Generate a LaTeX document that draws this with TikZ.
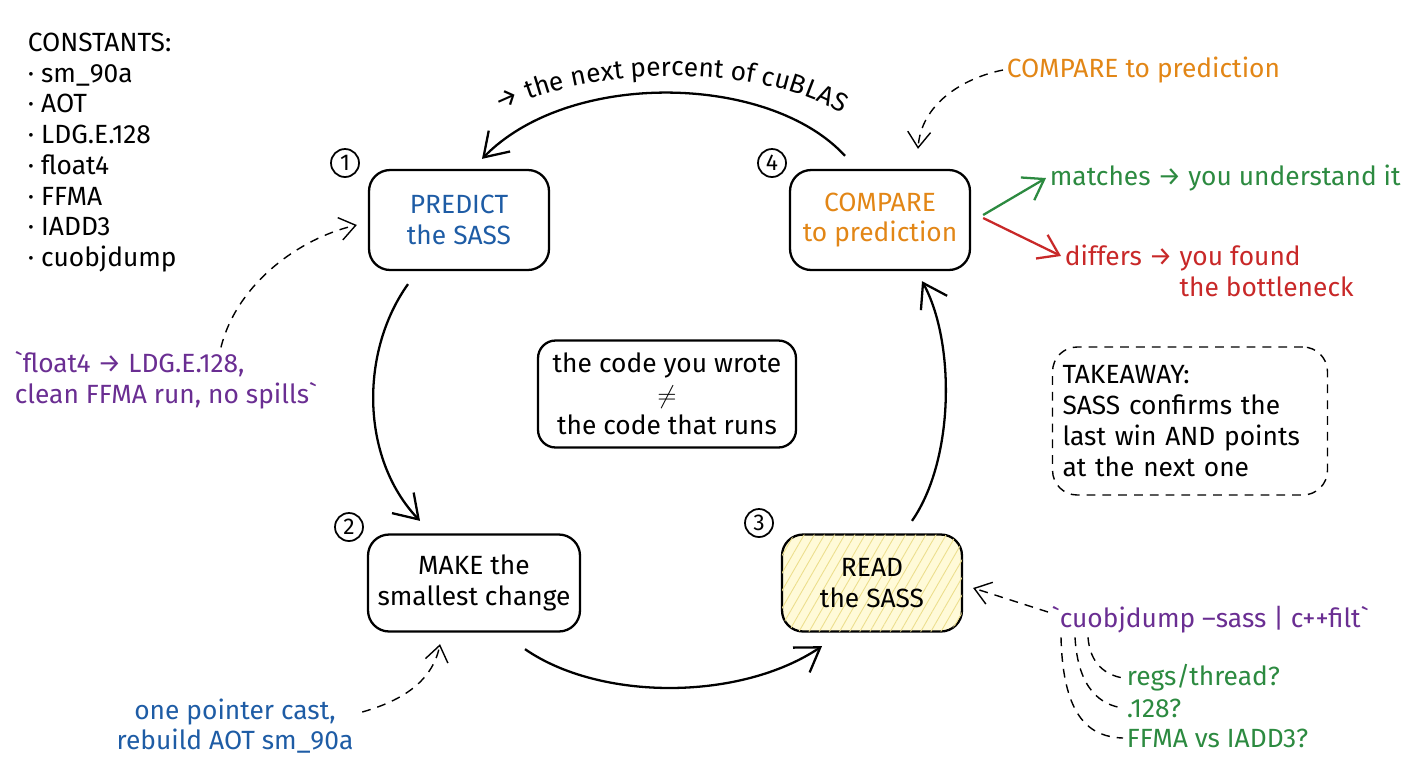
\documentclass[tikz,border=0pt]{standalone}
\usepackage{fontspec}
\setmainfont{Fira Sans}
\definecolor{PredictBlue}{RGB}{30,92,165}
\definecolor{CompareOrange}{RGB}{226,134,22}
\definecolor{MatchGreen}{RGB}{44,138,64}
\definecolor{DiffRed}{RGB}{200,40,40}
\definecolor{CmdPurple}{RGB}{106,46,146}
\definecolor{ReadFill}{RGB}{255,250,216}
\definecolor{ReadHatch}{RGB}{236,222,140}
\usepackage{tikz}
\usetikzlibrary{arrows.meta}
\usetikzlibrary{positioning}
\usetikzlibrary{patterns.meta}
\usetikzlibrary{decorations.text}
\tikzstyle{stepbox} = [draw, line width=1.3pt, rounded corners=12pt, align=center, minimum width=3.6cm, minimum height=2cm]
\tikzstyle{numcirc} = [draw, circle, line width=1pt, minimum size=0.56cm, inner sep=0pt, font=\fontsize{13}{15}\selectfont]
\tikzstyle{flow} = [line width=1.3pt, -{Straight Barb[length=13pt,width=17pt]}]
\tikzstyle{hint} = [line width=0.8pt, dash pattern=on 5pt off 4pt, -{Straight Barb[length=9pt,width=13pt]}]
\tikzstyle{note} = [align=left, inner sep=2pt]

\begin{document}
\begin{tikzpicture}[x=0.02cm, y=-0.02cm, font=\fontsize{15}{17.5}\selectfont]
    \useasboundingbox (0,0) rectangle (1408,768);

    \node[note, anchor=north west] (consts) at (24,29) {CONSTANTS:\\ · sm\_90a\\ · AOT\\ · LDG.E.128\\ · float4\\ · FFMA\\ · IADD3\\ · cuobjdump};

    \node[stepbox, text=PredictBlue] (b1) at (459,220) {PREDICT\\the SASS};
    \node[stepbox, text=CompareOrange] (b4) at (880,220) {COMPARE\\to prediction};
    \node[stepbox, minimum width=4.24cm, minimum height=1.94cm] (b2) at (474,583) {MAKE the\\smallest change};
    \node[stepbox, minimum height=1.94cm, fill=ReadFill, postaction={pattern={Lines[angle=60,distance=5pt,line width=0.5pt]}, pattern color=ReadHatch}] (b3) at (872,583) {READ\\the SASS};

    \node[numcirc] (n1) at (345,163) {1};
    \node[numcirc] (n4) at (772,163) {4};
    \node[numcirc] (n2) at (349,527) {2};
    \node[numcirc] (n3) at (759,523) {3};

    \node[stepbox, minimum width=5.16cm, minimum height=2.14cm, rounded corners=10pt] (gap) at (667,394) {the code you wrote\\$\neq$\\the code that runs};
    \node[draw, dash pattern=on 5pt off 4pt, line width=0.8pt, rounded corners=14pt, minimum width=5.5cm, minimum height=2.96cm, align=left, text width=5.1cm, inner sep=0.2cm] (take) at (1190,421) {TAKEAWAY:\\SASS confirms the\\last win AND points\\at the next one};

    \draw[flow] ([xshift=-0.7cm, yshift=0.26cm]b4.north) .. controls +(-75,-82) and +(88,-90) .. ([xshift=0.46cm, yshift=0.2cm]b1.north);
    \draw[flow] ([xshift=-1.02cm, yshift=-0.26cm]b1.south) .. controls +(-48,67) and +(-60,-63) .. ([xshift=-1.08cm, yshift=0.25cm]b2.north);
    \draw[flow] ([xshift=1.02cm, yshift=-0.33cm]b2.south) .. controls +(75,52) and +(-82,55) .. ([xshift=-1cm, yshift=-0.27cm]b3.south);
    \draw[flow] ([xshift=0.8cm, yshift=0.25cm]b3.north) .. controls +(43,-62) and +(33,60) .. ([xshift=0.84cm, yshift=-0.2cm]b4.south);
    \path[postaction={decorate}, decoration={text along path, text align=center, text={|\fontsize{15}{17}\selectfont|→ the next percent of cuBLAS}}] (482,122) .. controls (580,60) and (780,60) .. (858,126);

    \node[note, text=CompareOrange, anchor=west] (cmp) at (1003,70) {COMPARE to prediction};
    \node[note, text=MatchGreen, anchor=west] (match) at (1046,178) {matches → you understand it};
    \node[note, text=DiffRed, anchor=west] (diff) at (1061,271) {differs → you found\\\phantom{differs → }the bottleneck};
    \draw[hint] (cmp.west) .. controls +(-40,8) and +(3,-45) .. ([xshift=0.76cm, yshift=0.4cm]b4.north);
    \draw[line width=1.3pt, MatchGreen, -{Straight Barb[length=11pt,width=15pt]}] ([xshift=0.24cm, yshift=0.1cm]b4.east) -- (match.west);
    \draw[line width=1.3pt, DiffRed, -{Straight Barb[length=11pt,width=15pt]}] ([xshift=0.24cm, yshift=0.04cm]b4.east) -- ([yshift=0.3cm]diff.west);

    \node[note, text=CmdPurple, anchor=west] (fl) at (11,380) {\textasciigrave float4 → LDG.E.128,\\clean FFMA run, no spills\textasciigrave};
    \draw[hint] ([xshift=1.1cm]fl.north) .. controls +(16,-64) and +(-57,13) .. ([xshift=-0.22cm, yshift=-0.1cm]b1.west);

    \node[note, text=PredictBlue, align=center] (ptr) at (235,726) {one pointer cast,\\rebuild AOT sm\_90a};
    \draw[hint] ([xshift=0.1cm, yshift=0.28cm]ptr.east) .. controls +(35,-10) and +(-8,40) .. ([xshift=-0.68cm, yshift=-0.23cm]b2.south);

    \node[note, text=CmdPurple, anchor=west] (dump) at (1048,620) {\textasciigrave cuobjdump --sass | c++filt\textasciigrave};
    \draw[hint] ([yshift=0.16cm]dump.west) .. controls +(-25,-8) and +(25,8) .. ([xshift=0.2cm, yshift=-0.1cm]b3.east);

    \node[note, text=MatchGreen, anchor=west] (q1) at (1123,678) {regs/thread?};
    \node[note, text=MatchGreen, anchor=west] (q2) at (1123,708) {.128?};
    \node[note, text=MatchGreen, anchor=west] (q3) at (1123,738) {FFMA vs IADD3?};
    \draw[dash pattern=on 5pt off 4pt, line width=0.8pt] ([xshift=0.8cm]dump.south west) .. controls +(2,27) and +(-17,-3) .. (q1.west);
    \draw[dash pattern=on 5pt off 4pt, line width=0.8pt] ([xshift=0.54cm]dump.south west) .. controls +(3,52) and +(-22,-3) .. (q2.west);
    \draw[dash pattern=on 5pt off 4pt, line width=0.8pt] ([xshift=0.26cm]dump.south west) .. controls +(2,82) and +(-32,-1) .. (q3.west);
\end{tikzpicture}
\end{document}
